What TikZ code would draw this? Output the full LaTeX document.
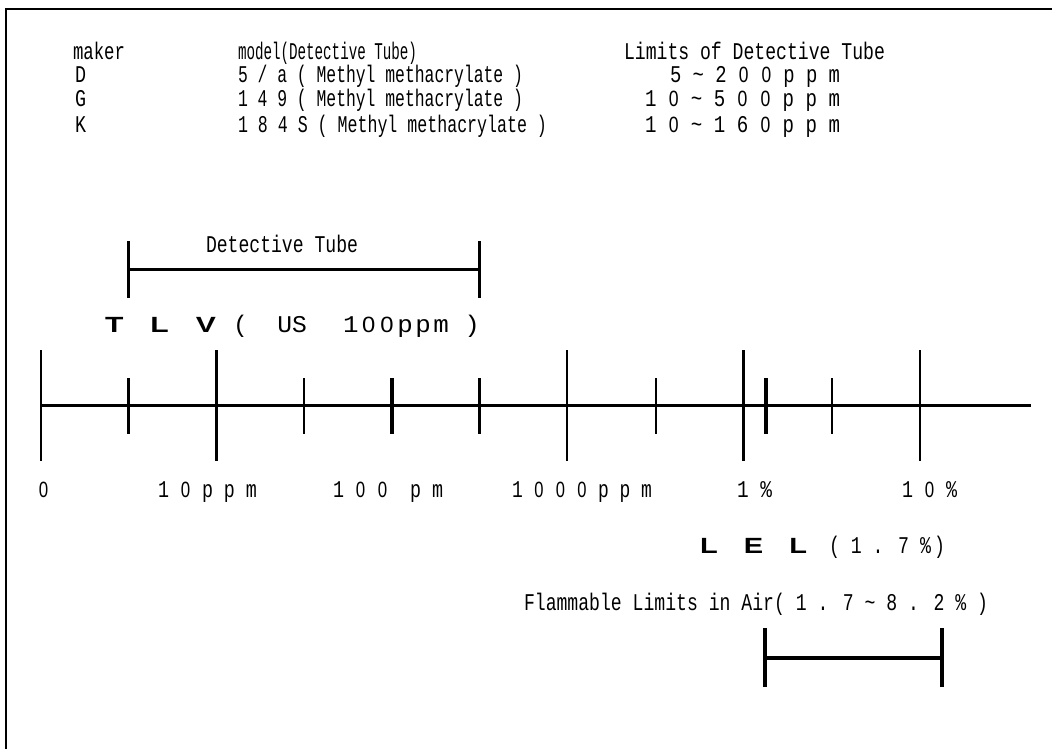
\documentclass[tikz,border=0pt]{standalone}
\usepackage{fontspec}
\usepackage{graphicx}
\newfontfamily\gfont{Liberation Mono}
\newfontfamily\wfont{Liberation Sans}
\newcommand\fitw[2]{\resizebox{#1pt}{\height}{#2}}
\newcommand\zz{\makebox[0.6em]{\scalebox{0.92}{\wfont 0}}}
\begin{document}
\begin{tikzpicture}[x=1pt,y=-1pt,
  txt/.style={inner sep=0pt, outer sep=0pt, anchor=base west, font=\gfont\fontsize{24}{26}\selectfont},
  big/.style={inner sep=0pt, outer sep=0pt, anchor=base west, font=\wfont\bfseries\fontsize{22}{24}\selectfont},
  frameline/.style={line width=2pt},
  axisline/.style={line width=2.5pt},
  longtick/.style={line width=2.5pt},
  shorttick/.style={line width=2.5pt},
  heavytick/.style={line width=4pt},
  bracket/.style={line width=3.5pt}]
\useasboundingbox (0,0) rectangle (1052,749);
\fill[white] (0,0) rectangle (1052,749);
% frame (top and left only)
\coordinate (fbl) at (6,749);
\coordinate (ftl) at (6,9.5);
\coordinate (ftr) at (1052,9.5);
\draw[frameline] (fbl) -- (ftl) -- (ftr);

% header table
\node[txt] (hmaker) at (73,60) {\fitw{52}{maker}};
\node[txt] (hmodel) at (238,60) {\fitw{179}{model(Detective Tube)}};
\node[txt] (hlim) at (624,60) {\fitw{261}{Limits of Detective Tube}};
\node[txt] (mD) at (75,83) {\fitw{11}{D}};
\node[txt] (mG) at (75,107) {\fitw{11}{G}};
\node[txt] (mK) at (75,132) {\fitw{11}{K}};
\node[txt] (tD) at (238,83) {\fitw{285}{5 / a ( Methyl methacrylate )}};
\node[txt] (tG) at (238,107) {\fitw{285}{1 4 9 ( Methyl methacrylate )}};
\node[txt] (tK) at (238,132) {\fitw{309}{1 8 4 S ( Methyl methacrylate )}};
\node[txt] (rD) at (670,83) {\fitw{170}{5 \textasciitilde{} 2 \zz{} \zz{} p p m}};
\node[txt] (rG) at (645,107) {\fitw{195}{1 \zz{} \textasciitilde{} 5 \zz{} \zz{} p p m}};
\node[txt] (rK) at (645,132) {\fitw{195}{1 \zz{} \textasciitilde{} 1 6 \zz{} p p m}};

% detective tube bracket
\node[txt] (dtlabel) at (206,252) {\fitw{152}{Detective Tube}};
\coordinate (dtl) at (128.3,269.3);
\coordinate (dtr) at (479.3,269.3);
\draw[bracket] ([yshift=-28.5pt]dtl) -- ([yshift=28pt]dtl);
\draw[bracket] ([yshift=-28.5pt]dtr) -- ([yshift=28pt]dtr);
\draw[bracket] (dtl) -- (dtr);

% TLV
\node[big] (tlv) at (105,332) {\fitw{111}{T\hspace{0.9em}L\hspace{0.9em}V}};
\node[txt] (tlvus) at (233,332) {\fitw{74}{(\ \ US}};
\node[txt] (tlvval) at (343,332) {\fitw{137}{1\hspace{0.1em}\zz\hspace{0.1em}\zz\hspace{0.1em}p\hspace{0.1em}p\hspace{0.1em}m\hspace{0.6em})}};

% axis
\coordinate (a0) at (41,405.7);
\coordinate (aend) at (1031,405.7);
\draw[axisline] (a0) -- (aend);
\foreach \x in {41,216.7,567,743.5,920}
  \draw[longtick] (\x,350) -- (\x,461);
\foreach \x in {128.3,304,479.3,655.8,831.9}
  \draw[shorttick] (\x,378) -- (\x,434);
\foreach \x in {391.7,765.7}
  \draw[heavytick] (\x,378) -- (\x,434);

% axis labels
\node[txt] (l0) at (38,497) {\fitw{11}{\zz}};
\node[txt] (l10) at (158,497) {\fitw{99}{1 \zz{} p p m}};
\node[txt] (l100) at (333,497) {\fitw{110}{1 \zz{} \zz\ \ p m}};
\node[txt] (l1000) at (512,497) {\fitw{140}{1 \zz{} \zz{} \zz{} p p m}};
\node[txt] (l1p) at (737,497) {\fitw{35}{1 \%}};
\node[txt] (l10p) at (902,497) {\fitw{55}{1 \zz{} \%}};

% LEL
\node[big] (lel) at (700,553) {\fitw{107}{L\hspace{0.9em}E\hspace{0.9em}L}};
\node[txt] (lelval) at (829,553) {\fitw{116}{( 1 . 7 \%\,)}};

% flammable limits
\node[txt] (flam) at (524,610) {\fitw{464}{Flammable Limits in Air( 1 . 7 \textasciitilde{} 8 . 2 \% )}};
\coordinate (fll) at (765,658);
\coordinate (flr) at (942,658);
\draw[bracket] ([yshift=-29pt]fll) -- ([yshift=30pt]fll);
\draw[bracket] ([yshift=-29pt]flr) -- ([yshift=30pt]flr);
\draw[bracket] (fll) -- (flr);
\end{tikzpicture}
\end{document}
